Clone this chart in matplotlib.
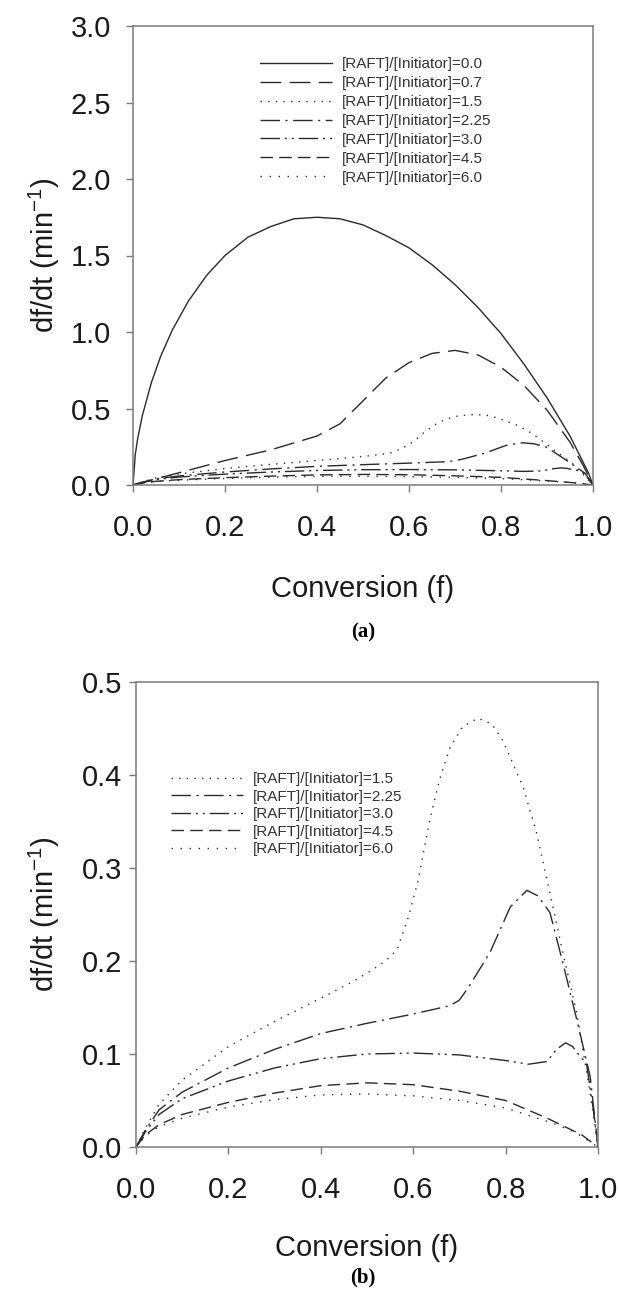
import matplotlib
matplotlib.use("Agg")
import matplotlib.pyplot as plt

plt.rcParams['font.family'] = ['Liberation Sans', 'DejaVu Sans']
plt.rcParams['mathtext.fontset'] = 'custom'
plt.rcParams['mathtext.rm'] = 'Liberation Sans'

# ---------------- data ----------------
f_00 = [0, 0.005, 0.01, 0.02, 0.04, 0.06, 0.085, 0.12, 0.16, 0.2, 0.25, 0.3, 0.35, 0.4, 0.45,
        0.5, 0.55, 0.6, 0.65, 0.7, 0.75, 0.8, 0.85, 0.9, 0.95, 0.98, 0.99, 1.0]
y_00 = [0, 0.20, 0.30, 0.45, 0.67, 0.84, 1.01, 1.20, 1.37, 1.50, 1.62, 1.69, 1.74, 1.75, 1.74,
        1.70, 1.63, 1.55, 1.44, 1.31, 1.16, 0.99, 0.79, 0.57, 0.32, 0.14, 0.08, 0]

f_07 = [0, 0.05, 0.1, 0.2, 0.3, 0.4, 0.45, 0.5, 0.55, 0.6, 0.65, 0.7, 0.75, 0.8, 0.85, 0.9, 0.95, 0.98, 1.0]
y_07 = [0, 0.04, 0.08, 0.16, 0.23, 0.32, 0.40, 0.55, 0.70, 0.80, 0.86, 0.88, 0.85, 0.77, 0.65, 0.49, 0.28, 0.12, 0]

f_15 = [0, 0.02, 0.05, 0.1, 0.2, 0.3, 0.4, 0.47, 0.51, 0.54, 0.565, 0.59, 0.61, 0.636, 0.657, 0.68,
        0.707, 0.74, 0.77, 0.794, 0.838, 0.867, 0.896, 0.924, 0.954, 0.983, 1.0]
y_15 = [0, 0.020, 0.046, 0.072, 0.108, 0.135, 0.160, 0.178, 0.190, 0.200, 0.212, 0.248, 0.285, 0.352,
        0.395, 0.430, 0.452, 0.461, 0.455, 0.437, 0.387, 0.338, 0.273, 0.209, 0.144, 0.058, 0]

f_225 = [0, 0.02, 0.05, 0.1, 0.2, 0.3, 0.4, 0.5, 0.6, 0.68, 0.70, 0.72, 0.766, 0.81, 0.846, 0.87,
         0.896, 0.924, 0.954, 0.983, 1.0]
y_225 = [0, 0.018, 0.040, 0.059, 0.085, 0.105, 0.122, 0.133, 0.143, 0.152, 0.158, 0.172, 0.209, 0.258,
         0.276, 0.270, 0.252, 0.198, 0.137, 0.076, 0]

f_30 = [0, 0.02, 0.05, 0.1, 0.2, 0.3, 0.4, 0.5, 0.6, 0.7, 0.8, 0.85, 0.89, 0.91, 0.93, 0.945, 0.96,
        0.975, 0.99, 1.0]
y_30 = [0, 0.016, 0.035, 0.052, 0.071, 0.085, 0.095, 0.100, 0.101, 0.099, 0.093, 0.089, 0.092, 0.105,
        0.112, 0.108, 0.098, 0.090, 0.040, 0]

f_45 = [0, 0.02, 0.05, 0.1, 0.2, 0.3, 0.4, 0.5, 0.6, 0.7, 0.8, 0.89, 0.965, 1.0]
y_45 = [0, 0.013, 0.024, 0.035, 0.048, 0.058, 0.066, 0.069, 0.067, 0.060, 0.050, 0.031, 0.013, 0]

f_60 = [0, 0.02, 0.05, 0.1, 0.2, 0.3, 0.4, 0.5, 0.6, 0.7, 0.8, 0.9, 0.95, 1.0]
y_60 = [0, 0.012, 0.022, 0.031, 0.043, 0.051, 0.056, 0.057, 0.055, 0.050, 0.042, 0.026, 0.016, 0]

labels = ["[RAFT]/[Initiator]=0.0", "[RAFT]/[Initiator]=0.7", "[RAFT]/[Initiator]=1.5",
          "[RAFT]/[Initiator]=2.25", "[RAFT]/[Initiator]=3.0", "[RAFT]/[Initiator]=4.5",
          "[RAFT]/[Initiator]=6.0"]

x_ticks = [0.0, 0.2, 0.4, 0.6, 0.8, 1.0]
y_ticks_a = [0.0, 0.5, 1.0, 1.5, 2.0, 2.5, 3.0]
y_ticks_b = [0.0, 0.1, 0.2, 0.3, 0.4, 0.5]

# ---------------- styles ----------------
series = [
    (f_00, y_00, labels[0], dict(linestyle='-')),
    (f_07, y_07, labels[1], dict(dashes=(15, 6))),
    (f_15, y_15, labels[2], dict(dashes=(1, 4.5))),
    (f_225, y_225, labels[3], dict(dashes=(14, 4, 1.5, 4))),
    (f_30, y_30, labels[4], dict(dashes=(14, 3.5, 1.5, 3.5, 1.5, 3.5))),
    (f_45, y_45, labels[5], dict(dashes=(9, 4.5))),
    (f_60, y_60, labels[6], dict(dashes=(1, 5.5))),
]

LC = '#2a2a2a'
SPC = '#7a7a7a'

fig = plt.figure(figsize=(6.19, 12.9), dpi=100)
W, H = 619.0, 1290.0


def ax_rect(l, r, t, b):
    return [l / W, 1 - b / H, (r - l) / W, (b - t) / H]


ax_a = fig.add_axes(ax_rect(133, 593, 26, 485))
ax_b = fig.add_axes(ax_rect(136, 598, 682, 1147))


def style_axis(ax, yticks, ylim, ypad):
    ax.set_xlim(0, 1.0)
    ax.set_ylim(*ylim)
    ax.set_xticks(x_ticks)
    ax.set_xticklabels([f"{v:.1f}" for v in x_ticks])
    ax.set_yticks(yticks)
    ax.set_yticklabels([f"{v:.1f}" for v in yticks])
    for s in ax.spines.values():
        s.set_color(SPC)
        s.set_linewidth(1.1)
    ax.tick_params(axis='both', direction='out', length=5, width=1.0, color=SPC,
                   labelsize=21, labelcolor='#1a1a1a')
    ax.tick_params(axis='x', pad=16)
    ax.tick_params(axis='y', pad=ypad)
    ax.tick_params(top=False, right=False)


style_axis(ax_a, y_ticks_a, (0, 3.0), 11)
style_axis(ax_b, y_ticks_b, (0, 0.5), 5)

for f, y, lab, st in series:
    ax_a.plot(f, y, color=LC, lw=1.0, label=lab, **st)
for f, y, lab, st in series[2:]:
    ax_b.plot(f, y, color=LC, lw=1.0, label=lab, **st)

leg_kw = dict(frameon=False, fontsize=11, handlelength=4.7, handletextpad=0.65,
              borderaxespad=0, borderpad=0, loc='upper left')
leg_a = ax_a.legend(bbox_to_anchor=(0.276, 0.932), labelspacing=0.32, **leg_kw)
leg_b = ax_b.legend(bbox_to_anchor=(0.076, 0.806), labelspacing=0.23, **leg_kw)
for leg in (leg_a, leg_b):
    for t in leg.get_texts():
        t.set_color('#333333')

ylab = "df/dt (min$^{\\mathregular{-1}}$)"
for ax in (ax_a, ax_b):
    ax.set_ylabel(ylab, fontsize=21, color='#1a1a1a')
    ax.set_xlabel("Conversion (f)", fontsize=21, color='#1a1a1a')

ax_a.yaxis.set_label_coords((62 - 133) / 460.0, 0.5)
ax_b.yaxis.set_label_coords((62 - 136) / 462.0, 0.5)
ax_a.xaxis.set_label_coords(0.5, (485 - 575) / 459.0)
ax_b.xaxis.set_label_coords(0.5, (1147 - 1234) / 465.0)

fig.text(363 / W, 1 - 632 / H, "(a)", ha='center', va='center', fontsize=15,
         fontweight='bold', family='Liberation Serif')
fig.text(363 / W, 1 - 1277 / H, "(b)", ha='center', va='center', fontsize=15,
         fontweight='bold', family='Liberation Serif')

fig.savefig("out.png", dpi=100)
